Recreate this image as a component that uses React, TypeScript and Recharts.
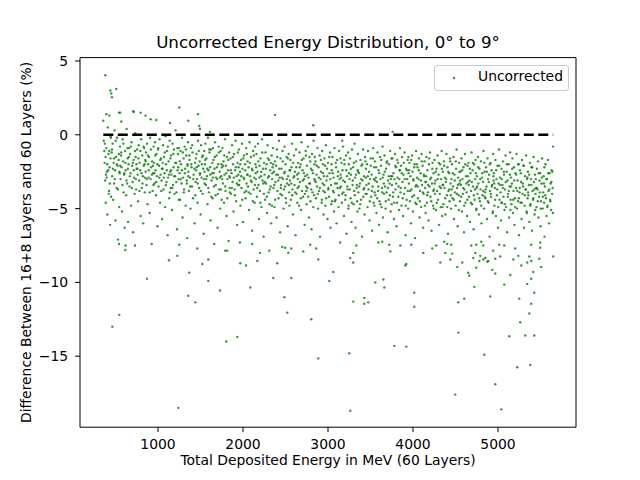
import React from 'react';
import { ScatterChart, Scatter, XAxis, YAxis, ReferenceLine, Legend } from 'recharts';

// Axis settings
const xTicks = [1000, 2000, 3000, 4000, 5000];
const yTicks = [-15, -10, -5, 0, 5];
const xDomain: [number, number] = [82, 5918];
const yDomain: [number, number] = [-19.81, 5.23];
const zeroLineRange = [356, 5650];

// [energy MeV, difference %] — dense band, low energies
const bandLow: [number, number][] = [
  [362,-0.4],[371,-1.9],[378,-3.1],[385,-4.6],[391,-0.9],[398,-2.5],[404,-5.4],[410,0.5],[417,-1.3],[423,-3.8],[430,-2.2],[436,-6.1],[442,-0.1],[447,-4.2],[368,-1.1],[395,-2.9],[441,-1.6],
  [455,-1.2],[461,-2.8],[466,-0.6],[472,-4.4],[478,-1.9],[483,-3.3],[489,0.3],[494,-2.4],[500,-5.8],[506,-1.5],[512,-3.6],[518,-0.2],[524,-2.1],[530,-7.1],[536,-1.7],[543,-4.9],[548,-2.6],
  [553,-0.8],[559,-3.0],[565,-1.4],[571,-2.2],[577,-5.2],[583,-0.3],[589,-1.8],[595,-3.9],[601,-2.7],[607,-6.3],[613,-1.1],[619,-2.4],[625,-4.1],[631,0.4],[637,-3.3],[643,-1.6],[648,-5.9],
  [653,-2.0],[659,-0.9],[665,-3.5],[671,-1.3],[677,-2.6],[683,-4.8],[689,-0.5],[695,-2.1],[701,-3.2],[707,-6.6],[713,-1.7],[719,-2.9],[725,-4.0],[731,0.1],[737,-1.5],[743,-3.7],[748,-2.3],
  [754,-1.0],[760,-2.7],[766,-4.5],[772,-0.7],[778,-3.1],[784,-1.9],[790,-2.4],[796,-5.5],[802,-0.3],[808,-3.6],[814,-1.4],[820,-2.8],[826,-6.0],[832,-2.1],[838,-0.9],[844,-3.9],[849,-1.7],
  [853,-2.5],[859,-1.2],[865,-3.4],[871,-0.6],[877,-4.7],[883,-2.0],[889,-2.9],[895,-1.5],[901,-5.3],[907,-0.2],[913,-3.0],[919,-2.2],[925,-7.4],[931,-1.8],[937,-3.8],[943,-2.6],[948,-0.8],
  [952,-1.9],[958,-3.3],[964,-0.5],[970,-2.4],[976,-4.1],[982,-1.3],[988,-2.8],[994,-6.2],[1000,-1.0],[1006,-3.5],[1012,-2.1],[1018,-0.3],[1024,-4.6],[1030,-2.7],[1036,-1.6],[1042,-3.1],[1048,-5.7],
  [1053,-2.3],[1059,-0.7],[1065,-3.7],[1071,-1.5],[1077,-2.6],[1083,-4.9],[1089,-0.1],[1095,-2.0],[1101,-3.2],[1107,-1.1],[1113,-6.8],[1119,-2.9],[1125,-1.8],[1131,-4.3],[1137,-0.4],[1143,-2.5],[1148,-3.6],
  [1152,-1.4],[1158,-2.7],[1164,-5.1],[1170,-0.6],[1176,-3.4],[1182,-2.2],[1188,-1.0],[1194,-4.0],[1200,-2.8],[1206,0.3],[1212,-1.9],[1218,-3.9],[1224,-6.4],[1230,-2.4],[1236,-1.3],[1242,-3.0],[1247,-0.9],
  [1253,-2.6],[1259,-4.4],[1265,-1.1],[1271,-2.0],[1277,-3.3],[1283,-0.2],[1289,-5.6],[1295,-2.9],[1301,-1.6],[1307,-3.7],[1313,-0.8],[1319,-2.3],[1325,-4.8],[1331,-1.4],[1337,-3.1],[1343,-7.0],[1348,-2.1],
  [1352,-0.5],[1358,-2.5],[1364,-3.8],[1370,-1.7],[1376,-2.9],[1382,-5.0],[1388,-0.9],[1394,-2.2],[1400,-3.5],[1406,-1.2],[1412,-4.3],[1418,-2.7],[1424,0.0],[1430,-6.0],[1436,-1.9],[1442,-3.2],[1447,-2.4],
];

// dense band, 1450–3050 MeV
const bandMid: [number, number][] = [
  [1453,-1.3],[1459,-3.0],[1465,-4.6],[1471,-0.4],[1477,-2.1],[1483,-3.6],[1489,-1.8],[1495,-2.6],[1501,-5.4],[1507,-0.7],[1513,-2.9],[1519,-1.5],[1525,-4.0],[1531,-2.3],[1537,-6.7],[1543,-1.1],[1548,-3.3],
  [1552,-2.0],[1558,-0.6],[1564,-3.4],[1570,-1.6],[1576,-2.8],[1582,-4.7],[1588,-0.2],[1594,-2.4],[1600,-3.9],[1606,-1.2],[1612,-2.2],[1618,-5.8],[1624,-1.0],[1630,-3.1],[1636,-2.6],[1642,-4.3],[1647,-0.9],
  [1653,-1.7],[1659,-3.5],[1665,-2.3],[1671,-0.5],[1677,-4.1],[1683,-2.9],[1689,-1.4],[1695,-3.0],[1701,-6.3],[1707,-2.0],[1713,-0.8],[1719,-3.7],[1725,-2.5],[1731,-5.0],[1737,-1.1],[1743,-2.8],[1748,-4.4],
  [1752,-2.2],[1758,-0.9],[1764,-3.3],[1770,-1.8],[1776,-4.6],[1782,-2.7],[1788,-0.3],[1794,-3.8],[1800,-2.1],[1806,-5.5],[1812,-1.5],[1818,-3.0],[1824,-2.4],[1830,-7.2],[1836,-1.2],[1842,-3.6],[1847,-2.9],
  [1853,-1.6],[1859,-4.0],[1865,-2.6],[1871,-0.7],[1877,-3.2],[1883,-2.0],[1889,-5.2],[1895,-1.3],[1901,-3.7],[1907,-2.4],[1913,-0.4],[1919,-4.5],[1925,-2.8],[1931,-6.1],[1937,-1.9],[1943,-3.4],[1948,-2.2],
  [1952,-1.0],[1958,-3.1],[1964,-2.5],[1970,-4.8],[1976,-1.7],[1982,-3.6],[1988,-0.6],[1994,-2.3],[2000,-5.9],[2006,-2.9],[2012,-1.4],[2018,-3.9],[2024,-2.0],[2030,-4.3],[2036,-0.9],[2042,-3.3],[2047,-2.7],
  [2053,-1.8],[2059,-3.5],[2065,-2.2],[2071,-5.1],[2077,-0.5],[2083,-2.8],[2089,-4.0],[2095,-1.5],[2101,-3.2],[2107,-6.5],[2113,-2.4],[2119,-1.1],[2125,-3.7],[2131,-2.9],[2137,-4.6],[2143,-0.8],[2148,-2.6],
  [2152,-3.0],[2158,-1.3],[2164,-4.2],[2170,-2.5],[2176,-0.6],[2182,-3.4],[2188,-5.7],[2194,-2.1],[2200,-3.8],[2206,-1.6],[2212,-2.8],[2218,-4.9],[2224,-0.3],[2230,-3.1],[2236,-2.3],[2242,-6.9],[2247,-1.9],
  [2253,-2.7],[2259,-4.4],[2265,-1.2],[2271,-3.3],[2277,-2.0],[2283,-5.3],[2289,-0.7],[2295,-2.9],[2301,-3.9],[2307,-1.7],[2313,-4.7],[2319,-2.4],[2325,-3.5],[2331,-6.0],[2337,-1.4],[2343,-3.0],[2348,-2.2],
  [2352,-0.9],[2358,-3.6],[2364,-2.5],[2370,-4.9],[2376,-1.8],[2382,-3.2],[2388,-2.1],[2394,-5.6],[2400,-1.0],[2406,-3.8],[2412,-2.7],[2418,-4.3],[2424,-0.4],[2430,-2.9],[2436,-6.6],[2442,-1.6],[2447,-3.4],
  [2453,-2.3],[2459,-4.1],[2465,-1.1],[2471,-3.0],[2477,-5.0],[2483,-2.6],[2489,-0.8],[2495,-3.5],[2501,-2.0],[2507,-4.6],[2513,-1.5],[2519,-3.3],[2525,-6.2],[2531,-2.8],[2537,-1.3],[2543,-3.9],[2548,-2.4],
  [2552,-3.1],[2558,-1.7],[2564,-4.4],[2570,-2.2],[2576,-0.6],[2582,-3.7],[2588,-5.4],[2594,-2.9],[2600,-1.4],[2606,-3.4],[2612,-2.5],[2618,-6.8],[2624,-1.0],[2630,-4.0],[2636,-2.7],[2642,-3.6],[2647,-1.9],
  [2653,-2.6],[2659,-4.8],[2665,-1.2],[2671,-3.2],[2677,-2.0],[2683,-5.1],[2689,-0.5],[2695,-3.8],[2701,-2.4],[2707,-4.2],[2713,-1.6],[2719,-3.0],[2725,-6.1],[2731,-2.8],[2737,-1.1],[2743,-3.5],[2748,-4.7],
  [2752,-2.1],[2758,-3.6],[2764,-0.8],[2770,-2.9],[2776,-5.6],[2782,-1.5],[2788,-3.3],[2794,-4.5],[2800,-2.3],[2806,-6.4],[2812,-1.3],[2818,-3.9],[2824,-2.6],[2830,-0.4],[2836,-4.1],[2842,-2.0],[2847,-3.1],
  [2853,-1.8],[2859,-4.3],[2865,-2.7],[2871,-3.5],[2877,-0.9],[2883,-5.0],[2889,-2.2],[2895,-3.8],[2901,-1.4],[2907,-6.9],[2913,-3.0],[2919,-2.5],[2925,-4.6],[2931,-1.1],[2937,-3.3],[2943,-2.0],[2948,-5.4],
  [2952,-2.8],[2958,-1.6],[2964,-3.9],[2970,-4.8],[2976,-0.7],[2982,-3.1],[2988,-2.3],[2994,-5.7],[3000,-1.9],[3006,-3.6],[3012,-4.2],[3018,-2.6],[3024,-1.2],[3030,-6.3],[3036,-3.4],[3042,-2.0],[3047,-4.5],
];

// dense band, 3050–4650 MeV
const bandHigh: [number, number][] = [
  [3053,-1.5],[3059,-3.8],[3065,-2.9],[3071,-5.2],[3077,-0.9],[3083,-3.3],[3089,-4.4],[3095,-2.2],[3101,-6.0],[3107,-1.7],[3113,-3.6],[3119,-2.5],[3125,-4.9],[3131,-1.1],[3137,-3.0],[3143,-7.3],[3148,-2.7],
  [3152,-3.5],[3158,-1.9],[3164,-4.6],[3170,-2.4],[3176,-0.8],[3182,-3.9],[3188,-5.5],[3194,-2.0],[3200,-3.2],[3206,-4.1],[3212,-1.4],[3218,-6.7],[3224,-2.8],[3230,-3.7],[3236,-1.2],[3242,-4.8],[3247,-2.6],
  [3253,-3.0],[3259,-1.6],[3265,-4.3],[3271,-2.7],[3277,-5.9],[3283,-1.0],[3289,-3.4],[3295,-2.2],[3301,-4.7],[3307,-3.8],[3313,-0.6],[3319,-2.9],[3325,-6.3],[3331,-1.8],[3337,-3.6],[3343,-4.5],[3348,-2.4],
  [3352,-1.3],[3358,-3.9],[3364,-2.6],[3370,-5.0],[3376,-3.3],[3382,-1.7],[3388,-4.4],[3394,-2.1],[3400,-6.9],[3406,-3.1],[3412,-1.0],[3418,-3.7],[3424,-2.8],[3430,-5.4],[3436,-1.5],[3442,-4.0],[3447,-2.3],
  [3453,-3.4],[3459,-2.0],[3465,-4.9],[3471,-1.1],[3477,-3.7],[3483,-2.5],[3489,-5.8],[3495,-3.0],[3501,-1.6],[3507,-4.2],[3513,-2.7],[3519,-6.5],[3525,-3.5],[3531,-0.9],[3537,-4.6],[3543,-2.2],[3548,-3.9],
  [3552,-1.8],[3558,-4.1],[3564,-2.9],[3570,-5.3],[3576,-3.2],[3582,-1.2],[3588,-3.8],[3594,-2.4],[3600,-6.1],[3606,-4.5],[3612,-1.5],[3618,-3.0],[3624,-2.1],[3630,-4.9],[3636,-3.6],[3642,-0.8],[3647,-5.6],
  [3653,-2.7],[3659,-4.0],[3665,-1.4],[3671,-3.5],[3677,-5.0],[3683,-2.3],[3689,-3.9],[3695,-1.8],[3701,-6.6],[3707,-3.1],[3713,-4.4],[3719,-2.0],[3725,-3.3],[3731,-1.1],[3737,-5.2],[3743,-2.8],[3748,-4.7],
  [3752,-3.4],[3758,-1.6],[3764,-4.2],[3770,-2.6],[3776,-5.7],[3782,-3.0],[3788,-1.3],[3794,-3.7],[3800,-2.2],[3806,-6.2],[3812,-4.6],[3818,-2.9],[3824,-1.9],[3830,-3.5],[3836,-5.1],[3842,-2.4],[3847,-0.9],
  [3853,-3.9],[3859,-2.1],[3865,-4.8],[3871,-1.5],[3877,-3.2],[3883,-5.5],[3889,-2.7],[3895,-4.0],[3901,-1.2],[3907,-3.6],[3913,-6.8],[3919,-2.3],[3925,-4.4],[3931,-3.0],[3937,-1.7],[3943,-5.0],[3948,-2.6],
  [3952,-3.3],[3958,-1.9],[3964,-4.5],[3970,-2.8],[3976,-6.0],[3982,-3.7],[3988,-1.4],[3994,-2.5],[4000,-5.2],[4006,-3.1],[4012,-4.1],[4018,-2.0],[4024,-7.0],[4030,-3.5],[4036,-1.1],[4042,-4.7],[4047,-2.9],
  [4053,-2.2],[4059,-4.3],[4065,-3.0],[4071,-1.6],[4077,-5.6],[4083,-3.8],[4089,-2.6],[4095,-4.9],[4101,-1.3],[4107,-3.4],[4113,-2.1],[4119,-6.3],[4125,-4.0],[4131,-2.8],[4137,-1.8],[4143,-3.6],[4148,-5.3],
  [4152,-3.2],[4158,-1.5],[4164,-4.6],[4170,-2.4],[4176,-3.9],[4182,-5.8],[4188,-2.0],[4194,-3.5],[4200,-1.2],[4206,-4.2],[4212,-2.9],[4218,-6.5],[4224,-3.3],[4230,-1.9],[4236,-4.8],[4242,-2.6],[4247,-3.7],
  [4253,-1.7],[4259,-4.0],[4265,-3.1],[4271,-5.1],[4277,-2.3],[4283,-3.8],[4289,-1.4],[4295,-4.4],[4301,-2.7],[4307,-6.1],[4313,-3.5],[4319,-2.0],[4325,-4.9],[4331,-3.0],[4337,-1.1],[4343,-5.5],[4348,-3.4],
  [4352,-2.5],[4358,-4.7],[4364,-1.8],[4370,-3.6],[4376,-2.9],[4382,-5.4],[4388,-3.2],[4394,-1.3],[4400,-4.1],[4406,-2.2],[4412,-6.7],[4418,-3.8],[4424,-2.6],[4430,-4.5],[4436,-1.6],[4442,-3.3],[4447,-5.0],
  [4453,-3.0],[4459,-2.0],[4465,-4.3],[4471,-3.5],[4477,-1.5],[4483,-5.7],[4489,-2.7],[4495,-3.9],[4501,-4.8],[4507,-2.3],[4513,-1.0],[4519,-3.6],[4525,-6.2],[4531,-2.9],[4537,-4.1],[4543,-1.9],[4548,-3.3],
  [4552,-4.5],[4558,-2.5],[4564,-3.4],[4570,-1.6],[4576,-5.2],[4582,-3.0],[4588,-4.0],[4594,-2.2],[4600,-6.6],[4606,-3.7],[4612,-1.3],[4618,-4.6],[4624,-2.8],[4630,-3.9],[4636,-5.5],[4642,-2.1],[4647,-3.2],
];

// dense band, 4650–5650 MeV
const bandTop: [number, number][] = [
  [4653,-1.9],[4659,-4.2],[4665,-3.1],[4671,-5.9],[4677,-2.6],[4683,-3.8],[4689,-1.2],[4695,-4.7],[4701,-2.4],[4707,-3.5],[4713,-6.4],[4719,-2.0],[4725,-4.4],[4731,-3.0],[4737,-1.7],[4743,-5.1],[4748,-3.6],
  [4752,-2.8],[4758,-4.0],[4764,-1.5],[4770,-3.3],[4776,-5.4],[4782,-2.3],[4788,-4.5],[4794,-3.7],[4800,-1.8],[4806,-6.0],[4812,-2.9],[4818,-4.1],[4824,-3.2],[4830,-1.1],[4836,-5.0],[4842,-2.5],[4847,-3.9],
  [4853,-4.3],[4859,-2.2],[4865,-3.5],[4871,-5.7],[4877,-1.6],[4883,-3.0],[4889,-4.6],[4895,-2.7],[4901,-6.9],[4907,-3.8],[4913,-1.9],[4919,-4.2],[4925,-2.4],[4931,-3.4],[4937,-5.3],[4943,-1.3],[4948,-3.1],
  [4952,-2.6],[4958,-4.8],[4964,-3.6],[4970,-1.7],[4976,-5.5],[4982,-3.0],[4988,-4.1],[4994,-2.1],[5000,-6.3],[5006,-3.3],[5012,-1.0],[5018,-4.4],[5024,-2.9],[5030,-3.9],[5036,-5.8],[5042,-2.3],[5047,-4.6],
  [5053,-3.4],[5059,-1.8],[5065,-4.2],[5071,-2.7],[5077,-5.1],[5083,-3.7],[5089,-1.4],[5095,-4.9],[5101,-2.5],[5107,-6.6],[5113,-3.1],[5119,-4.0],[5125,-2.0],[5131,-5.6],[5137,-3.5],[5143,-1.2],[5148,-4.4],
  [5152,-2.9],[5158,-4.7],[5164,-3.3],[5170,-1.6],[5176,-5.3],[5182,-3.8],[5188,-2.2],[5194,-6.1],[5200,-4.3],[5206,-2.6],[5212,-3.6],[5218,-1.3],[5224,-5.0],[5230,-3.1],[5236,-4.5],[5242,-2.0],[5247,-6.8],
  [5253,-3.9],[5259,-2.4],[5265,-4.6],[5271,-3.2],[5277,-5.7],[5283,-1.7],[5289,-4.0],[5295,-3.5],[5301,-2.1],[5307,-6.3],[5313,-4.8],[5319,-2.8],[5325,-3.7],[5331,-1.4],[5337,-5.2],[5343,-3.0],[5348,-4.3],
  [5352,-2.5],[5358,-4.1],[5364,-3.4],[5370,-5.9],[5376,-1.9],[5382,-4.7],[5388,-3.0],[5394,-2.2],[5400,-6.5],[5406,-3.8],[5412,-4.4],[5418,-1.5],[5424,-3.2],[5430,-5.4],[5436,-2.7],[5442,-4.0],[5447,-3.6],
  [5453,-4.9],[5459,-2.3],[5465,-3.7],[5471,-1.8],[5477,-5.6],[5483,-4.2],[5489,-3.1],[5495,-2.6],[5501,-6.2],[5507,-4.5],[5513,-3.3],[5519,-1.6],[5525,-5.0],[5531,-3.9],[5537,-2.8],[5543,-4.6],[5548,-6.9],
  [5553,-3.5],[5559,-2.0],[5565,-4.3],[5571,-5.5],[5577,-3.0],[5583,-4.8],[5589,-1.7],[5595,-3.8],[5601,-6.0],[5607,-2.6],[5613,-4.4],[5619,-3.3],[5625,-5.1],[5631,-2.4],[5637,-4.0],[5643,-3.6],[5649,-0.8],
];

// extra points in the core of the band (it is very dense in the reference)
const bandCore: [number, number][] = [
  [374,-0.6],[383,-1.5],[402,-2.0],[414,-2.4],[426,-1.1],[433,-3.3],[445,-0.2],[388,-2.7],[420,-4.0],
  [458,-1.0],[470,-2.3],[481,-1.6],[492,-3.0],[503,-0.4],[515,-2.0],[527,-3.7],[539,-1.3],[546,-2.5],
  [556,-2.1],[568,-1.2],[580,-3.4],[592,-0.6],[604,-2.6],[616,-1.9],[628,-3.1],[640,-0.9],[646,-2.3],
  [656,-1.5],[668,-2.8],[680,-0.8],[692,-3.6],[704,-1.9],[716,-2.4],[728,-1.1],[740,-3.0],[746,-2.0],
  [757,-2.3],[769,-1.6],[781,-3.8],[793,-1.1],[805,-2.6],[817,-3.3],[829,-0.8],[841,-2.0],[847,-2.9],
  [856,-1.8],[868,-3.0],[880,-1.4],[892,-2.4],[904,-3.9],[916,-1.0],[928,-2.7],[940,-2.1],[946,-3.4],
  [955,-2.6],[967,-1.4],[979,-3.2],[991,-2.0],[1003,-0.9],[1015,-2.9],[1027,-1.7],[1039,-3.8],[1045,-2.3],
  [1056,-1.9],[1068,-2.9],[1080,-1.2],[1092,-3.4],[1104,-2.4],[1116,-0.8],[1128,-2.7],[1140,-3.9],[1146,-1.6],
  [1155,-2.4],[1167,-3.6],[1179,-1.3],[1191,-2.8],[1203,-1.9],[1215,-3.2],[1227,-0.9],[1239,-2.2],[1245,-4.4],
  [1256,-1.8],[1268,-3.0],[1280,-2.4],[1292,-1.2],[1304,-3.9],[1316,-2.6],[1328,-1.0],[1340,-3.3],[1346,-2.0],
  [1355,-2.8],[1367,-1.4],[1379,-3.5],[1391,-2.0],[1403,-0.7],[1415,-3.0],[1427,-2.3],[1439,-4.1],[1445,-1.6],
  [1456,-2.2],[1468,-3.3],[1480,-1.1],[1492,-2.7],[1504,-3.8],[1516,-2.0],[1528,-1.4],[1540,-3.0],[1546,-2.5],
  [1555,-1.7],[1567,-3.0],[1579,-2.3],[1591,-3.6],[1603,-1.0],[1615,-2.7],[1627,-4.2],[1639,-1.9],[1645,-2.9],
  [1656,-2.6],[1668,-1.5],[1680,-3.4],[1692,-2.2],[1704,-4.0],[1716,-1.2],[1728,-2.9],[1740,-3.7],[1746,-2.0],
  [1755,-3.0],[1767,-2.1],[1779,-1.4],[1791,-3.5],[1803,-2.6],[1815,-4.3],[1827,-1.7],[1839,-2.8],[1845,-3.9],
  [1856,-2.4],[1868,-3.6],[1880,-1.5],[1892,-2.9],[1904,-4.1],[1916,-2.2],[1928,-3.3],[1940,-1.2],[1946,-2.7],
  [1955,-3.4],[1967,-2.0],[1979,-2.8],[1991,-4.4],[2003,-1.6],[2015,-3.0],[2027,-2.4],[2039,-3.8],[2045,-1.3],
  [2056,-2.7],[2068,-3.9],[2080,-1.9],[2092,-3.1],[2104,-2.3],[2116,-4.5],[2128,-1.4],[2140,-3.4],[2146,-2.0],
  [2155,-2.2],[2167,-3.6],[2179,-1.8],[2191,-2.9],[2203,-4.6],[2215,-2.5],[2227,-1.2],[2239,-3.3],[2245,-4.0],
  [2256,-3.2],[2268,-2.3],[2280,-4.2],[2292,-1.6],[2304,-2.8],[2316,-3.7],[2328,-1.9],[2340,-4.8],[2346,-2.6],
  [2355,-2.0],[2367,-3.4],[2379,-4.4],[2391,-2.7],[2403,-1.5],[2415,-3.1],[2427,-2.3],[2439,-4.0],[2445,-3.6],
  [2456,-2.9],[2468,-1.8],[2480,-3.7],[2492,-2.5],[2504,-4.3],[2516,-3.0],[2528,-1.6],[2540,-3.4],[2546,-4.8],
  [2555,-2.4],[2567,-3.3],[2579,-4.1],[2591,-1.9],[2603,-2.8],[2615,-3.9],[2627,-2.2],[2639,-4.6],[2645,-3.0],
  [2656,-3.5],[2668,-2.2],[2680,-4.3],[2692,-1.7],[2704,-3.1],[2716,-2.6],[2728,-4.0],[2740,-1.4],[2746,-3.8],
  [2755,-2.7],[2767,-4.2],[2779,-3.3],[2791,-1.8],[2803,-3.7],[2815,-2.4],[2827,-4.9],[2839,-3.0],[2845,-1.5],
  [2856,-3.2],[2868,-2.1],[2880,-4.0],[2892,-2.9],[2904,-3.6],[2916,-1.7],[2928,-4.4],[2940,-2.6],[2946,-3.8],
  [2955,-3.4],[2967,-2.1],[2979,-4.3],[2991,-2.8],[3003,-3.7],[3015,-1.5],[3027,-3.0],[3039,-4.7],[3045,-2.4],
  [3056,-2.6],[3068,-3.9],[3080,-4.5],[3092,-1.9],[3104,-3.3],[3116,-2.8],[3128,-4.1],[3140,-3.6],[3146,-1.6],
  [3155,-2.9],[3167,-4.0],[3179,-3.1],[3191,-1.7],[3203,-4.4],[3215,-2.4],[3227,-3.5],[3239,-5.0],[3245,-2.0],
  [3256,-3.7],[3268,-2.3],[3280,-4.6],[3292,-3.1],[3304,-1.9],[3316,-4.1],[3328,-2.7],[3340,-3.4],[3346,-5.2],
  [3355,-2.5],[3367,-3.5],[3379,-4.7],[3391,-3.0],[3403,-2.0],[3415,-4.2],[3427,-3.6],[3439,-1.8],[3445,-2.9],
  [3456,-4.0],[3468,-2.8],[3480,-3.3],[3492,-4.5],[3504,-2.1],[3516,-3.8],[3528,-1.6],[3540,-3.0],[3546,-4.8],
  [3555,-3.1],[3567,-2.2],[3579,-4.3],[3591,-3.5],[3603,-2.6],[3615,-4.7],[3627,-1.7],[3639,-3.9],[3645,-2.9],
  [3656,-3.3],[3668,-2.5],[3680,-4.5],[3692,-1.9],[3704,-3.6],[3716,-2.8],[3728,-4.1],[3740,-3.0],[3746,-1.6],
  [3755,-2.8],[3767,-3.9],[3779,-4.6],[3791,-2.1],[3803,-3.3],[3815,-1.7],[3827,-4.2],[3839,-3.0],[3845,-2.4],
  [3856,-3.6],[3868,-2.6],[3880,-4.3],[3892,-1.9],[3904,-3.0],[3916,-4.8],[3928,-2.4],[3940,-3.8],[3946,-1.5],
  [3955,-2.4],[3967,-3.8],[3979,-1.7],[3991,-4.2],[4003,-3.0],[4015,-2.2],[4027,-4.6],[4039,-3.4],[4045,-2.0],
  [4056,-3.5],[4068,-2.4],[4080,-4.5],[4092,-3.1],[4104,-1.8],[4116,-3.9],[4128,-2.7],[4140,-4.8],[4146,-3.2],
  [4155,-2.8],[4167,-4.1],[4179,-3.4],[4191,-1.6],[4203,-3.0],[4215,-4.5],[4227,-2.3],[4239,-3.8],[4245,-5.0],
  [4256,-3.3],[4268,-2.5],[4280,-4.6],[4292,-3.0],[4304,-1.9],[4316,-4.0],[4328,-3.6],[4340,-2.3],[4346,-4.9],
  [4355,-3.4],[4367,-2.1],[4379,-4.3],[4391,-3.0],[4403,-4.9],[4415,-2.5],[4427,-3.7],[4439,-1.8],[4445,-4.1],
  [4456,-3.7],[4468,-2.6],[4480,-4.4],[4492,-3.1],[4504,-1.8],[4516,-4.0],[4528,-3.4],[4540,-5.1],[4546,-2.5],
  [4555,-3.1],[4567,-4.2],[4579,-2.4],[4591,-3.6],[4603,-4.8],[4615,-2.0],[4627,-3.3],[4639,-4.4],[4645,-2.8],
  [4656,-3.4],[4668,-2.3],[4680,-4.6],[4692,-3.2],[4704,-1.9],[4716,-4.1],[4728,-3.7],[4740,-2.6],[4746,-5.0],
  [4755,-3.5],[4767,-2.2],[4779,-4.3],[4791,-3.0],[4803,-4.8],[4815,-2.6],[4827,-3.8],[4839,-1.9],[4845,-4.2],
  [4856,-3.7],[4868,-2.5],[4880,-4.5],[4892,-3.2],[4904,-2.0],[4916,-4.0],[4928,-3.5],[4940,-5.2],[4946,-2.8],
  [4955,-3.3],[4967,-4.4],[4979,-2.4],[4991,-3.7],[5003,-4.9],[5015,-2.1],[5027,-3.4],[5039,-4.6],[5045,-3.0],
  [5056,-3.6],[5068,-2.5],[5080,-4.7],[5092,-3.2],[5104,-2.0],[5116,-4.2],[5128,-3.8],[5140,-2.7],[5146,-5.1],
  [5155,-3.5],[5167,-2.3],[5179,-4.4],[5191,-3.1],[5203,-4.9],[5215,-2.7],[5227,-3.8],[5239,-2.0],[5245,-4.3],
  [5256,-3.6],[5268,-2.6],[5280,-4.6],[5292,-3.3],[5304,-2.1],[5316,-4.1],[5328,-3.7],[5340,-5.3],[5346,-2.9],
  [5355,-3.9],[5367,-2.7],[5379,-4.8],[5391,-3.4],[5403,-2.2],[5415,-4.3],[5427,-3.7],[5439,-5.1],[5445,-3.0],
  [5456,-3.6],[5468,-4.5],[5480,-2.6],[5492,-3.9],[5504,-5.0],[5516,-2.9],[5528,-4.2],[5540,-3.3],[5546,-2.2],
  [5556,-4.1],[5568,-3.0],[5580,-4.9],[5592,-2.6],[5604,-3.7],[5616,-4.5],[5628,-3.2],[5640,-2.5],[5646,-5.3],
];

// isolated points below the band
const lowOutliers: [number, number][] = [
  [462,-13.0],[544,-12.2],[541,-7.4],[617,-7.5],[615,-7.8],[729,-7.5],[870,-9.75],[1129,-8.5],[1227,-8.2],[1250,-7.45],
  [1239,-18.5],[1368,-9.35],[1356,-10.9],[1439,-11.35],[1462,-7.7],[1521,-8.75],[1592,-8.45],[1592,-9.9],[1662,-7.4],[1729,-10.55],
  [1791,-7.85],[1815,-7.85],[1803,-14.0],[1933,-13.7],[1964,-7.3],[1968,-8.7],[2035,-8.85],[2086,-10.35],[2109,-7.4],[2168,-8.55],
  [2200,-8.0],[2309,-7.85],[2356,-9.7],[2403,-8.7],[2462,-7.6],[2497,-7.65],[2486,-11.0],[2521,-12.05],[2533,-8.0],[2568,-7.7],
  [2568,-9.7],[2709,-7.9],[2791,-7.45],[2803,-12.5],[2862,-7.7],[2886,-8.45],[2886,-15.15],[3015,-9.9],[3062,-9.3],[3250,-14.8],
  [3262,-18.7],[3262,-8.35],[3297,-8.0],[3297,-8.65],[3297,-11.3],[3333,-7.5],[3427,-11.05],[3427,-11.45],[3474,-11.35],[3556,-10.0],
  [3592,-7.3],[3639,-7.25],[3651,-9.8],[3663,-10.35],[3721,-7.45],[3733,-7.9],[3780,-14.3],[3851,-7.5],[3910,-8.85],[3921,-8.75],
  [3921,-14.35],[3980,-7.45],[4015,-10.7],[4015,-11.65],[4121,-8.0],[4227,-7.7],[4274,-7.5],[4321,-8.65],[4368,-7.25],[4403,-7.4],
  [4450,-7.45],[4380,-8.0],[4439,-8.45],[4462,-8.05],[4497,-17.6],[4521,-8.95],[4533,-11.35],[4533,-13.4],[4580,-8.65],[4603,-11.1],
  [4650,-9.35],[4662,-9.55],[4686,-7.5],[4709,-8.35],[4721,-10.3],[4733,-8.0],[4745,-7.45],[4745,-9.0],[4780,-8.55],[4792,-8.2],
  [4803,-7.25],[4827,-7.5],[4827,-8.45],[4839,-14.9],[4850,-8.35],[4874,-8.6],[4886,-8.55],[4909,-10.95],[4933,-9.15],[4968,-9.4],
  [4944,-7.85],[4968,-16.9],[4968,-8.4],[5015,-7.45],[5074,-7.5],[5027,-8.25],[5039,-18.6],[5074,-10.15],[5133,-13.65],[5145,-9.5],
  [5180,-8.45],[5203,-7.7],[5227,-15.75],[5239,-8.2],[5250,-11.1],[5262,-12.7],[5274,-8.85],[5321,-13.6],[5344,-10.1],[5344,-8.65],
  [5368,-8.25],[5368,-12.1],[5380,-15.6],[5391,-9.75],[5391,-11.45],[5391,-8.55],[5391,-7.45],[5415,-9.3],[5427,-10.7],[5427,-13.6],
  [5486,-8.4],[5497,-7.3],[5497,-7.65],[5509,-8.95],[5650,-8.25],
];

// isolated points above the band
const highOutliers: [number, number][] = [
  [380,4.03],[439,3.0],[509,3.1],[450,2.8],[458,2.55],[356,0.95],[392,1.4],[427,1.3],[541,1.5],[556,1.5],
  [709,1.6],[713,1.55],[795,1.5],[854,1.3],[913,1.05],[980,1.0],[1250,1.85],[1470,1.4],[2376,1.35],[2827,0.65],
  [568,0.9],[1141,0.8],[1356,0.95],[1485,0.6],[1494,0.4],[1611,0.2],[3760,0.2],[3168,-0.4],
];

const points = [...bandLow, ...bandMid, ...bandHigh, ...bandTop, ...bandCore, ...lowOutliers, ...highOutliers].map(
  ([e, d]) => ({ e, d })
);
const zeroLine = zeroLineRange.map((e) => ({ e, d: 0 }));

const FONT = "'DejaVu Sans', sans-serif";
const fmtMinus = (v: number) => String(v).replace('-', '\u2212');

const Dot = (props: any) => {
  const { cx, cy } = props;
  if (cx == null || cy == null) return <g />;
  return <circle cx={cx} cy={cy} r={1.2} fill="#008000" fillOpacity={0.8} />;
};

const LegendBox = () => (
  <div
    style={{
      position: 'relative',
      width: 135,
      height: 26,
      boxSizing: 'border-box',
      border: '1px solid #cccccc',
      borderRadius: 3,
      background: 'rgba(255,255,255,0.8)',
      fontFamily: FONT,
      fontSize: 13.9,
      color: '#000',
    }}
  >
    <svg width={6} height={6} style={{ position: 'absolute', left: 16, top: 9 }}>
      <circle cx={3} cy={3} r={1.2} fill="#008000" fillOpacity={0.8} />
    </svg>
    <span style={{ position: 'absolute', left: 43, top: 3, lineHeight: '14px', whiteSpace: 'nowrap' }}>
      Uncorrected
    </span>
  </div>
);

export default function App() {
  return (
    <div style={{ position: 'absolute', left: 0, top: 0, width: 640, height: 480, background: '#fff', fontFamily: FONT }}>
      <div
        style={{
          position: 'absolute',
          left: 80,
          width: 496,
          top: 33,
          textAlign: 'center',
          fontSize: 16.67,
          lineHeight: '20px',
          color: '#000',
          whiteSpace: 'nowrap',
        }}
      >
        Uncorrected Energy Distribution, 0° to 9°
      </div>
      <ScatterChart
        width={640}
        height={480}
        margin={{ top: 57.6, right: 64, bottom: 0, left: 0 }}
        style={{ fontFamily: FONT }}
      >
        <XAxis
          type="number"
          dataKey="e"
          domain={xDomain}
          ticks={xTicks}
          allowDataOverflow
          height={52.8}
          tickSize={4.9}
          tickMargin={7}
          stroke="#000"
          axisLine={{ stroke: '#000', strokeWidth: 1 }}
          tickLine={{ stroke: '#000', strokeWidth: 1 }}
          tick={{ fill: '#000', fontSize: 13.9, fontFamily: FONT }}
          label={{
            value: 'Total Deposited Energy in MeV (60 Layers)',
            position: 'insideBottom',
            offset: 15,
            fill: '#000',
            fontSize: 13.9,
            fontFamily: FONT,
          }}
        />
        <YAxis
          type="number"
          dataKey="d"
          domain={yDomain}
          ticks={yTicks}
          allowDataOverflow
          width={80}
          tickSize={4.9}
          tickMargin={7}
          stroke="#000"
          axisLine={{ stroke: '#000', strokeWidth: 1 }}
          tickLine={{ stroke: '#000', strokeWidth: 1 }}
          tick={{ fill: '#000', fontSize: 13.9, fontFamily: FONT }}
          tickFormatter={fmtMinus}
          label={{
            value: 'Difference Between 16+8 Layers and 60 Layers (%)',
            angle: -90,
            position: 'insideLeft',
            offset: 26,
            fill: '#000',
            fontSize: 13.9,
            fontFamily: FONT,
            style: { textAnchor: 'middle' },
          }}
        />
        <ReferenceLine x={xDomain[1]} stroke="#000" strokeWidth={1} />
        <ReferenceLine y={yDomain[1]} stroke="#000" strokeWidth={1} />
        <Scatter
          name="Uncorrected"
          data={points}
          shape={<Dot />}
          isAnimationActive={false}
        />
        <Scatter
          name="zero"
          data={zeroLine}
          line={{ stroke: '#000', strokeWidth: 2.5, strokeDasharray: '10 4.5' }}
          shape={() => <g />}
          isAnimationActive={false}
          legendType="none"
        />
        <Legend
          layout="vertical"
          align="center"
          verticalAlign="middle"
          content={() => <LegendBox />}
          wrapperStyle={{ position: 'absolute', left: 434, top: 65, width: 135, height: 26, margin: 0 }}
        />
      </ScatterChart>
    </div>
  );
}
